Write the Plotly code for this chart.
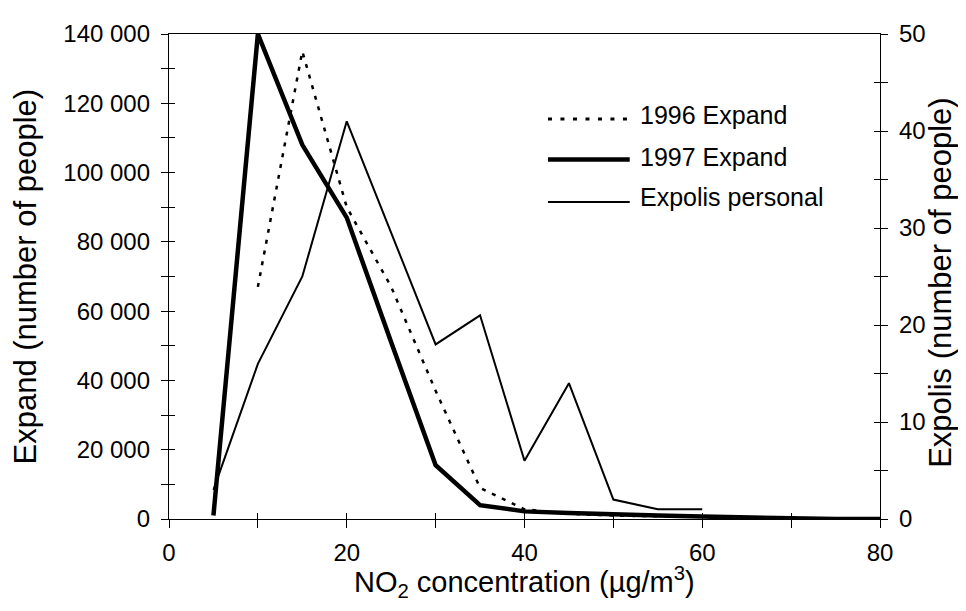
import plotly.graph_objects as go

# ---- data ----
x_1996 = [10, 15, 20, 25, 30, 35, 40, 45, 50, 55, 60, 65, 70, 75, 80]
y_1996 = [67000, 135000, 90000, 67000, 37000, 9000, 2800, 1500, 1000, 800, 600, 300, 0, 0, 0]

x_1997 = [5, 10, 15, 20, 25, 30, 35, 40, 45, 50, 55, 60, 65, 70, 75, 80]
y_1997 = [1000, 140000, 108000, 87000, 51000, 15500, 4000, 2200, 1700, 1500, 1000, 700, 500, 0, 0, 0]

x_expolis = [5, 10, 15, 20, 25, 30, 35, 40, 45, 50, 55, 60]
y_expolis = [3, 16, 25, 41, 29.5, 18, 21, 6, 14, 2, 1, 1]

legend_names = ["1996 Expand", "1997 Expand", "Expolis personal"]

FONT = "Liberation Sans, Arial, sans-serif"
TICK_SIZE = 24
XTITLE_SIZE = 29
YTITLE_SIZE = 31
LEG_SIZE = 25

fig = go.Figure()
fig.add_trace(go.Scatter(x=x_expolis, y=y_expolis, yaxis="y2", mode="lines",
                         line=dict(color="black", width=2), name=legend_names[2]))
fig.add_trace(go.Scatter(x=x_1996, y=y_1996, mode="lines",
                         line=dict(color="black", width=2.5, dash="4px,7px"), name=legend_names[0]))
fig.add_trace(go.Scatter(x=x_1997, y=y_1997, mode="lines",
                         line=dict(color="black", width=4.5), name=legend_names[1]))

common_tick = dict(tickfont=dict(family=FONT, size=TICK_SIZE, color="black"),
                   showgrid=False, zeroline=False, tickcolor="black", tickwidth=1.3)

# page body has an 8px margin: figure sized to fit inside the window without overflow
fig.update_layout(
    width=950, height=595,
    margin=dict(l=161, r=78, t=20, b=84),
    paper_bgcolor="white", plot_bgcolor="white",
    showlegend=False,
    separators=". ",
    xaxis=dict(range=[0, 80], dtick=20, tick0=0, ticks="outside", ticklen=8,
               minor=dict(dtick=10, ticks="outside", ticklen=8, tickcolor="black", tickwidth=1.3),
               showline=True, linecolor="black", linewidth=1.3, mirror=True,
               ticklabelstandoff=4, **common_tick),
    xaxis2=dict(range=[0, 80], dtick=10, tick0=0, ticks="inside", ticklen=6,
                overlaying="x", anchor="y", showticklabels=False, showline=False,
                showgrid=False, zeroline=False, tickcolor="black", tickwidth=1.3),
    yaxis=dict(range=[0, 140000], dtick=20000, tick0=0, ticks="outside", ticklen=7,
               tickformat=",d",
               minor=dict(dtick=10000, ticks="outside", ticklen=7, tickcolor="black", tickwidth=1.3),
               showline=True, linecolor="black", linewidth=1.3,
               ticklabelstandoff=6, **common_tick),
    yaxis2=dict(range=[0, 50], dtick=10, tick0=0, ticks="outside", ticklen=7,
                minor=dict(dtick=5, ticks="outside", ticklen=7, tickcolor="black", tickwidth=1.3),
                overlaying="y", side="right", anchor="x",
                showline=True, linecolor="black", linewidth=1.3,
                ticklabelstandoff=6, **common_tick),
    yaxis3=dict(range=[0, 140000], dtick=10000, tick0=0, ticks="inside", ticklen=6,
                overlaying="y", anchor="x", side="left", showticklabels=False,
                showline=False, showgrid=False, zeroline=False, tickcolor="black", tickwidth=1.3),
    yaxis4=dict(range=[0, 50], dtick=5, tick0=0, ticks="inside", ticklen=6,
                overlaying="y", anchor="x", side="right", showticklabels=False,
                showline=False, showgrid=False, zeroline=False, tickcolor="black", tickwidth=1.3),
)

# invisible helper traces so the tick-only overlay axes render
fig.add_trace(go.Scatter(x=[None], y=[None], xaxis="x2", yaxis="y3", showlegend=False, hoverinfo="skip"))
fig.add_trace(go.Scatter(x=[None], y=[None], xaxis="x2", yaxis="y4", showlegend=False, hoverinfo="skip"))

# axis titles
fig.add_annotation(text="NO<sub>2</sub> concentration (µg/m<sup>3</sup>)", xref="paper", yref="paper",
                   x=0.5007, y=-0.1752, showarrow=False, xanchor="center", yanchor="bottom",
                   font=dict(family=FONT, size=XTITLE_SIZE, color="black"))
fig.add_annotation(text="Expand (number of people)", xref="paper", yref="paper",
                   x=-0.2025, y=0.5, textangle=-90, showarrow=False, xanchor="center", yanchor="middle",
                   font=dict(family=FONT, size=YTITLE_SIZE, color="black"))
fig.add_annotation(text="Expolis (number of people)", xref="paper", yref="paper",
                   x=1.0858, y=0.487, textangle=-90, showarrow=False, xanchor="center", yanchor="middle",
                   font=dict(family=FONT, size=YTITLE_SIZE, color="black"))

# custom legend (line samples + labels)
leg_styles = [dict(width=3, dash="4px,8.5px"), dict(width=4.5, dash="solid"), dict(width=2, dash="solid")]
leg_line_y = [0.8248, 0.7413, 0.6538]
leg_text_y = [0.8330, 0.7454, 0.6640]
for name, st, ly, ty in zip(legend_names, leg_styles, leg_line_y, leg_text_y):
    fig.add_shape(type="line", xref="paper", yref="paper", x0=0.533, x1=0.648, y0=ly, y1=ly,
                  line=dict(color="black", width=st["width"], dash=st["dash"]))
    fig.add_annotation(text=name, xref="paper", yref="paper", x=0.6596, y=ty, showarrow=False,
                       xanchor="left", yanchor="middle",
                       font=dict(family=FONT, size=LEG_SIZE, color="black"))

fig.write_html("out.html")
